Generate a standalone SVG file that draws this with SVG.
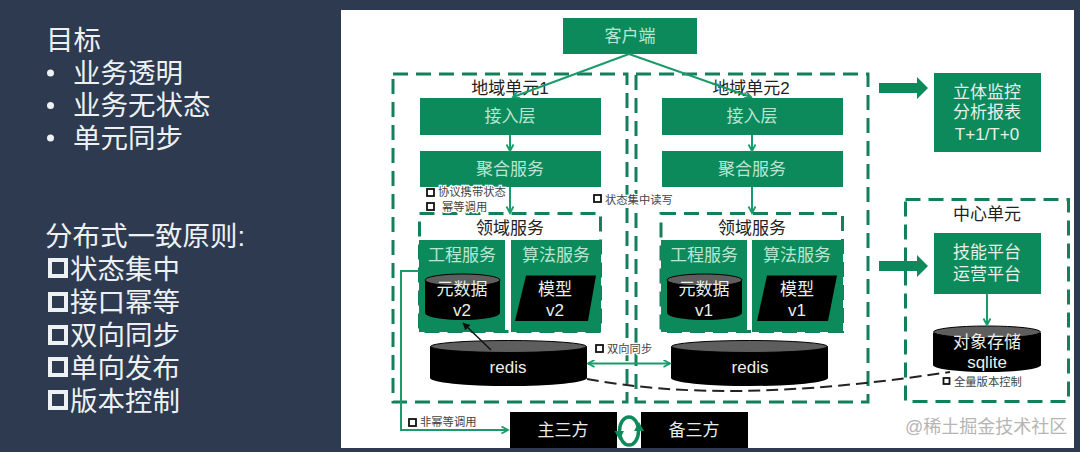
<svg xmlns="http://www.w3.org/2000/svg" width="1080" height="452" viewBox="0 0 1080 452">
<style>
text{font-family:"Liberation Sans","Noto Sans CJK SC",sans-serif}
.l{fill:#eef1f4;font-size:27.500px}
.g{fill:#0d8a5c}
.d{fill:none;stroke:#14805a;stroke-width:3;stroke-dasharray:15 8}
.w{fill:#b9e6d2;font-size:17px;text-anchor:middle}
.wb{fill:#e8efe9;font-size:17px;text-anchor:middle}
.k{fill:#222;font-size:17px;text-anchor:middle}
.s{fill:#444;font-size:11.300px;stroke:#fff;stroke-width:2.500px;paint-order:stroke}
.c{fill:none;stroke:#1b9b6b;stroke-width:2}
.cb{fill:#000}
.ct{fill:#5e5e5e;stroke:#000;stroke-width:1}
.sq{fill:#fff;stroke:#111;stroke-width:1.800}
.lsq{fill:none;stroke:#eef1f4;stroke-width:4}
.rd{fill:#eee;font-size:17px;text-anchor:middle}
</style>
<defs>
<marker id="a" markerWidth="10" markerHeight="10" refX="7.500" refY="4" orient="auto" markerUnits="userSpaceOnUse"><path d="M1 .5L7.500 4L1 7.500" fill="none" stroke="#1b9b6b" stroke-width="1.800"/></marker>
<marker id="as" markerWidth="10" markerHeight="10" refX="1" refY="4" orient="auto" markerUnits="userSpaceOnUse"><path d="M7.500 .5L1 4L7.500 7.500" fill="none" stroke="#1b9b6b" stroke-width="1.800"/></marker>
<marker id="ab" markerWidth="10" markerHeight="10" refX="7" refY="4" orient="auto" markerUnits="userSpaceOnUse"><path d="M0 0L7.500 4L0 8z" fill="#111"/></marker>
</defs>
<rect width="1080" height="452" fill="#2d3a50"/>
<rect x="341" y="10" width="733" height="438" fill="#fff"/>

<g id="left-text">
<text class="l" x="46" y="50">目标</text>
<circle cx="50.500" cy="73" r="3.500" fill="#eef1f4"/><text class="l" x="73" y="83">业务透明</text>
<circle cx="50.500" cy="105.500" r="3.500" fill="#eef1f4"/><text class="l" x="73" y="115">业务无状态</text>
<circle cx="50.500" cy="138" r="3.500" fill="#eef1f4"/><text class="l" x="73" y="148">单元同步</text>
<text class="l" x="45" y="246">分布式一致原则:</text>
<rect class="lsq" x="50" y="260" width="16" height="16"/><text class="l" x="70" y="279">状态集中</text>
<rect class="lsq" x="50" y="294" width="16" height="16"/><text class="l" x="70" y="312">接口幂等</text>
<rect class="lsq" x="50" y="327" width="16" height="16"/><text class="l" x="70" y="345">双向同步</text>
<rect class="lsq" x="50" y="359" width="16" height="16"/><text class="l" x="70" y="378">单向发布</text>
<rect class="lsq" x="50" y="392" width="16" height="16"/><text class="l" x="70" y="411">版本控制</text>
</g>

<g id="region1"><rect class="d" x="393" y="74" width="234" height="328"/><text class="k" x="510" y="94">地域单元1</text></g>
<g id="region2"><rect class="d" x="636" y="74" width="232" height="328"/><text class="k" x="751" y="94">地域单元2</text></g>
<g id="center"><rect class="d" x="905.500" y="199.500" width="163" height="202"/><text x="987" y="220" class="k">中心单元</text></g>
<g id="domain1"><rect class="d" x="419.500" y="213.500" width="181" height="118"/><text class="k" x="510" y="234">领域服务</text></g>
<g id="domain2"><rect class="d" x="661" y="213.500" width="181.500" height="118"/><text class="k" x="752" y="234">领域服务</text></g>

<g id="client"><rect class="g" x="563" y="18" width="134" height="36"/><text class="w" x="630" y="42">客户端</text></g>
<g id="access1"><rect class="g" x="420" y="98" width="181" height="37"/><text class="w" x="510" y="122">接入层</text></g>
<g id="agg1"><rect class="g" x="420" y="151" width="181" height="36"/><text class="w" x="510" y="175">聚合服务</text></g>
<g id="access2"><rect class="g" x="662" y="98" width="181" height="37"/><text class="w" x="752" y="122">接入层</text></g>
<g id="agg2"><rect class="g" x="662" y="151" width="181" height="36"/><text class="w" x="752" y="175">聚合服务</text></g>

<g id="eng1"><rect class="g" x="419" y="240" width="86" height="92"/><text class="w" x="462" y="261">工程服务</text>
<path class="cb" d="M425 280V313A37.500 7 0 0 0 500 313V280z"/><ellipse class="ct" cx="462.500" cy="280" rx="37.500" ry="6"/>
<text class="wb" x="462" y="295">元数据</text><text class="wb" x="462" y="316">v2</text></g>
<g id="algo1"><rect class="g" x="511" y="240" width="90" height="92"/><text class="w" x="556" y="261">算法服务</text>
<polygon class="cb" points="526,275.500 596,275.500 588,321 515,321"/>
<text class="wb" x="555" y="295">模型</text><text class="wb" x="555" y="316">v2</text></g>
<g id="eng2"><rect class="g" x="661" y="240" width="86" height="92"/><text class="w" x="704" y="261">工程服务</text>
<path class="cb" d="M667 280V313A37.500 7 0 0 0 742 313V280z"/><ellipse class="ct" cx="704.500" cy="280" rx="37.500" ry="6"/>
<text class="wb" x="704" y="295">元数据</text><text class="wb" x="704" y="316">v1</text></g>
<g id="algo2"><rect class="g" x="752" y="240" width="91" height="92"/><text class="w" x="797" y="261">算法服务</text>
<polygon class="cb" points="767,275.500 837,275.500 828,321 757,321"/>
<text class="wb" x="797" y="295">模型</text><text class="wb" x="797" y="316">v1</text></g>

<g id="redis1"><path class="cb" d="M430 346.500V378A78.500 8 0 0 0 587 378V346.500z"/><ellipse class="ct" cx="508.500" cy="346.500" rx="78" ry="6"/><text class="rd" x="508" y="373">redis</text></g>
<g id="redis2"><path class="cb" d="M671 346.500V378A78.500 8 0 0 0 828 378V346.500z"/><ellipse class="ct" cx="749.500" cy="346.500" rx="78" ry="6"/><text class="rd" x="750" y="373">redis</text></g>

<g id="third1"><rect class="cb" x="510" y="412" width="107" height="36"/><text class="wb" x="563" y="436">主三方</text></g>
<g id="third2"><rect class="cb" x="641" y="412" width="107" height="36"/><text class="wb" x="694" y="436">备三方</text></g>

<g id="monitor"><rect class="g" x="934" y="73" width="107" height="79"/><text class="wb" x="987" y="98">立体监控</text><text class="wb" x="987" y="118">分析报表</text><text class="wb" x="987" y="140">T+1/T+0</text></g>
<g id="platform"><rect class="g" x="934" y="233" width="107" height="61"/><text class="wb" x="987" y="258">技能平台</text><text class="wb" x="987" y="280">运营平台</text></g>
<g id="storage"><path class="cb" d="M933 333V365A54 7 0 0 0 1041 365V333z"/><ellipse class="ct" cx="987" cy="332" rx="53.500" ry="6"/><text class="wb" x="987" y="348">对象存储</text><text class="wb" x="987" y="368">sqlite</text></g>

<g id="connectors">
<path class="c" d="M629 54L513 97" marker-end="url(#a)"/>
<path class="c" d="M629 54L751 97" marker-end="url(#a)"/>
<path class="c" d="M510 135V151" marker-end="url(#a)"/>
<path class="c" d="M752 135V151" marker-end="url(#a)"/>
<path class="c" d="M510 187V213" marker-end="url(#a)"/>
<path class="c" d="M752 187V213" marker-end="url(#a)"/>
<path d="M491 350L463 323" fill="none" stroke="#111" stroke-width="1.500" marker-end="url(#ab)"/>
<path class="c" d="M588 363.500H670" marker-start="url(#as)" marker-end="url(#a)"/>
<path d="M587 379C680 396 790 396 950 372" fill="none" stroke="#222" stroke-width="2" stroke-dasharray="12 6"/>
<path class="c" d="M419 271H401V430H508" marker-end="url(#a)"/>
<path class="c" d="M987 294V325" marker-end="url(#a)"/>
<path d="M879 83H917V77L928 88L917 99V93H879z" class="g"/>
<path d="M879 261H917V255L928 266L917 277V271H879z" class="g"/>
<ellipse cx="629" cy="431" rx="9.500" ry="14" fill="none" stroke="#0d8a5c" stroke-width="3.500"/>
<path d="M614.500 431L624 431L619.500 440zM634 431L644 431L639 422z" fill="#0d8a5c"/>
</g>

<g id="labels">
<text class="s" x="438" y="196">协议携带状态</text><rect class="sq" x="427" y="189" width="7" height="7"/>
<text class="s" x="442" y="211">幂等调用</text><rect class="sq" x="427" y="203" width="7" height="7"/>
<text class="s" x="605" y="204">状态集中读写</text><rect class="sq" x="594" y="195" width="7" height="7"/>
<text class="s" x="607" y="353">双向同步</text><rect class="sq" x="596" y="345" width="7" height="7"/>
<text class="s" x="420" y="426">非幂等调用</text><rect class="sq" x="409" y="419" width="7" height="7"/>
<text class="s" x="954" y="386">全量版本控制</text><rect class="sq" x="943.500" y="378" width="6" height="6"/>
<text x="905" y="433" fill="#b5b5b5" font-size="18">@稀土掘金技术社区</text>
</g>
</svg>
